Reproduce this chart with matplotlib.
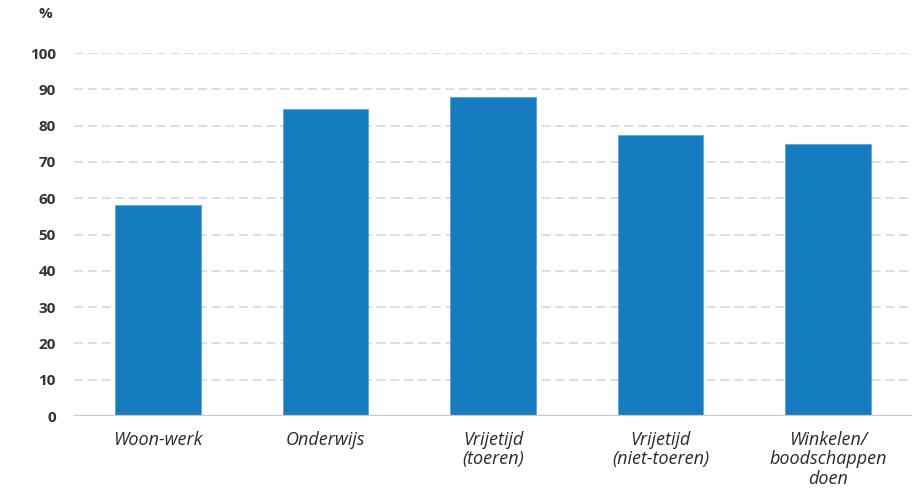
import matplotlib
matplotlib.use("Agg")
import matplotlib.pyplot as plt

# aandeel per verplaatsingsmotief (%)
motieven = ["Woon-werk", "Onderwijs", "Vrijetijd\n(toeren)",
            "Vrijetijd\n(niet-toeren)", "Winkelen/\nboodschappen\ndoen"]
aandeel = [58, 84.5, 88, 77.5, 75]
yticks = [0, 10, 20, 30, 40, 50, 60, 70, 80, 90, 100]

fig = plt.figure(figsize=(9.17, 4.94), dpi=100)
ax = fig.add_axes([74 / 917, 1 - 416 / 494, 838 / 917, 363 / 494])

ax.bar(range(len(motieven)), aandeel, width=0.51, color="#167cc0",
       edgecolor="#5fa6d8", linewidth=0.6, zorder=3)

ax.set_xlim(-0.5, len(motieven) - 0.5)
ax.set_ylim(0, 100)
ax.set_yticks(yticks)
ax.set_yticklabels([str(t) for t in yticks], fontsize=11, fontweight="bold",
                   color="#333333", family="Open Sans")
ax.set_xticks(range(len(motieven)))
ax.set_xticklabels(motieven, fontsize=13, style="italic", color="#2a2a2a",
                   family="Open Sans", linespacing=1.08)

for t in yticks[1:]:
    ax.axhline(t, color="#d4d4d4", linewidth=1.1, linestyle=(0, (6, 3)), zorder=1)
ax.axhline(0, color="#c8c8c8", linewidth=1.6, zorder=4)

for s in ax.spines.values():
    s.set_visible(False)
ax.tick_params(axis="y", length=0, pad=13)
ax.tick_params(axis="x", length=0, pad=11)

fig.text(45 / 917, 1 - 14 / 494, "%", fontsize=11, fontweight="bold",
         color="#333333", ha="center", va="center", family="Open Sans")

fig.savefig("out.png", dpi=100)
